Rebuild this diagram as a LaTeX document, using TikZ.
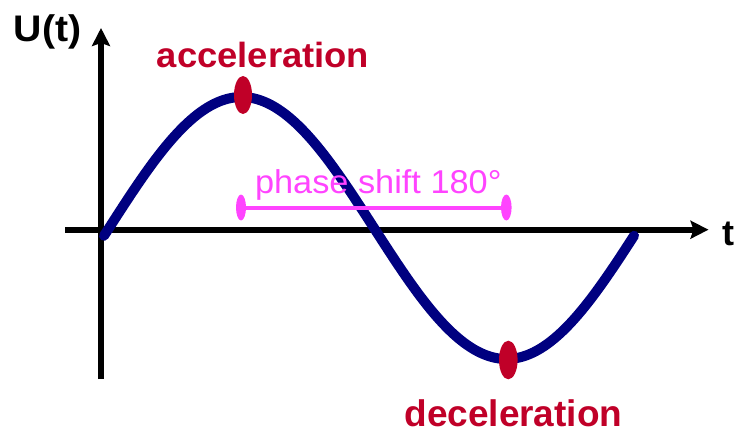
\documentclass[tikz,border=0pt]{standalone}
\usepackage{fontspec}
\setmainfont{Liberation Sans}
\usetikzlibrary{arrows.meta}
\definecolor{navycurve}{RGB}{0,0,128}
\definecolor{markred}{RGB}{192,0,40}
\definecolor{phasemag}{RGB}{255,68,255}
\tikzset{
  axisline/.style={line width=6pt, -{Stealth[length=18pt,width=18pt,inset=3pt]}},
  bigbold/.style={inner sep=0pt, font=\fontsize{#1}{#1}\selectfont\bfseries},
  marker/.style={fill=markred},
  phaseline/.style={draw=phasemag, line width=4pt},
}
\begin{document}
\begin{tikzpicture}[x=1pt,y=-1pt]
\useasboundingbox (0,0) rectangle (743,433);
% axes
\coordinate (ybot) at (101,379);
\coordinate (ytop) at (101,28);
\coordinate (xleft) at (65,229.7);
\coordinate (xright) at (708.5,229.7);
\draw[axisline] (ybot) -- (ytop);
\draw[axisline] (xleft) -- (xright);
% curve
\draw[navycurve, line width=10pt, line cap=round]
  plot[domain=104:634, samples=160, smooth] (\x, {228 - 131*sin((\x-109)*0.679245)});
% markers
\fill[marker] (243,95) ellipse [x radius=9, y radius=19];
\fill[marker] (508.3,360) ellipse [x radius=9.3, y radius=19.3];
% phase shift
\coordinate (pl) at (241,207.5);
\coordinate (pr) at (506.3,207.5);
\draw[phaseline] (pl) -- (pr);
\fill[phasemag] (pl) ellipse [x radius=5, y radius=13];
\fill[phasemag] (pr) ellipse [x radius=5.3, y radius=13];
% labels
\node[bigbold=37, anchor=base] (ulabel) at (47.5,41.7) {\scalebox{1.06}[1]{U(t)}};
\node[bigbold=36, anchor=base] (tlabel) at (728.3,245) {t};
\node[bigbold=35, anchor=base, text=markred] (acc) at (263,67.3) {\scalebox{1.04}[1]{acceleration}};
\node[bigbold=37, anchor=base, text=markred] (dec) at (513.4,426) {deceleration};
\node[inner sep=0pt, font=\fontsize{33}{33}\selectfont, anchor=base, text=phasemag] (phase) at (378.3,193.3) {\scalebox{1.04}[1]{phase shift 180°}};
\end{tikzpicture}
\end{document}
